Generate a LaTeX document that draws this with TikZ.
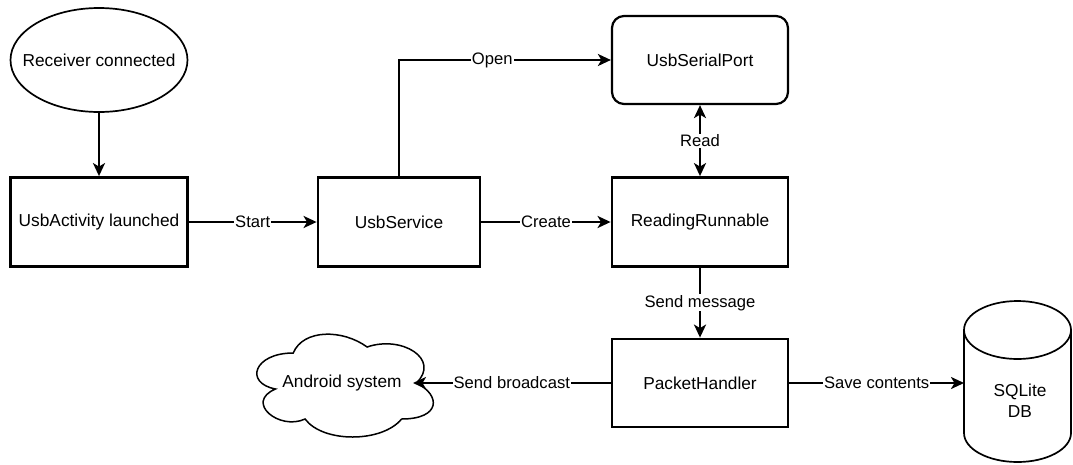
\documentclass[tikz,border=0pt]{standalone}
\usepackage{fontspec}
\setmainfont{Liberation Sans}
\usetikzlibrary{arrows.meta,shapes.geometric}
\begin{document}
\begin{tikzpicture}[x=1pt,y=-1pt,
  nodefont/.style={font=\fontsize{17.3}{21}\selectfont},
  box/.style={nodefont, draw, line width=2.8pt, minimum width=177pt, minimum height=89pt, inner sep=0pt},
  rbox/.style={nodefont, draw, line width=2.2pt, rounded corners=12pt, minimum width=176pt, minimum height=88pt, inner sep=0pt},
  thin/.style={line width=1.7pt},
  tip/.style={Stealth[length=13pt,width=12pt,inset=3.5pt]},
  arr/.style={line width=2.4pt, -{Stealth[length=13pt,width=12pt,inset=3.5pt]}},
  darr/.style={line width=2.4pt, {Stealth[length=13pt,width=12pt,inset=3.5pt]}-{Stealth[length=13pt,width=12pt,inset=3.5pt]}},
  lbl/.style={font=\fontsize{16.6}{19}\selectfont, fill=white, inner sep=1pt}
]
\useasboundingbox (0,0) rectangle (1073,464);

% nodes
\node[nodefont, minimum width=177pt, minimum height=104pt, inner sep=0pt] (rc) at (99,60) {Receiver connected};
\draw[thin] (rc.center) ellipse [x radius=88.5pt, y radius=52pt];
\node[box] (ua) at (99,222) {UsbActivity launched};
\node[box, minimum width=162pt] (us) at (399,222) {UsbService};
\node[rbox] (usp) at (700,60) {UsbSerialPort};
\node[box, minimum width=176pt] (rr) at (700,222) {ReadingRunnable};
\node[box, minimum width=176pt, minimum height=88pt] (ph) at (700,383) {PacketHandler};

% cloud
\begin{scope}[shift={(244,323)}, x=197pt, y=-120pt]
  \draw[line width=1.5pt] (0.25,0.25)
    .. controls (0.05,0.25) and (0,0.5) .. (0.16,0.55)
    .. controls (0,0.66) and (0.18,0.9) .. (0.31,0.8)
    .. controls (0.4,1) and (0.7,1) .. (0.8,0.8)
    .. controls (1,0.8) and (1,0.6) .. (0.875,0.5)
    .. controls (1,0.3) and (0.8,0.1) .. (0.625,0.2)
    .. controls (0.5,0.05) and (0.3,0.05) .. (0.25,0.25) -- cycle;
\end{scope}
\node[nodefont, inner sep=0pt] (andr) at (342,383) {Android system};
\coordinate (cloudR) at (413,383);

% cylinder
\draw[thin] (964,330) -- (964,433)
  arc[start angle=180, end angle=360, x radius=53.5pt, y radius=29pt] -- (1071,330);
\draw[thin] (1017.5,330) ellipse [x radius=53.5pt, y radius=29pt];
\node[nodefont, align=center, inner sep=0pt] (db) at (1020,401) {SQLite\\DB};
\coordinate (dbL) at (964,383);

% connectors
\draw[arr] (rc) -- (ua);
\draw[arr] (ua) -- node[lbl]{Start} (us);
\draw[arr] (us) -- node[lbl]{Create} (rr);
\draw[arr] (us.north) |- node[lbl, pos=0.72]{Open} (usp.west);
\draw[darr] (usp) -- node[lbl]{Read} (rr);
\draw[arr] (rr) -- node[lbl]{Send message} (ph);
\draw[arr] (ph) -- node[lbl]{Send broadcast} (cloudR);
\draw[arr] (ph) -- node[lbl]{Save contents} (dbL);
\end{tikzpicture}
\end{document}
